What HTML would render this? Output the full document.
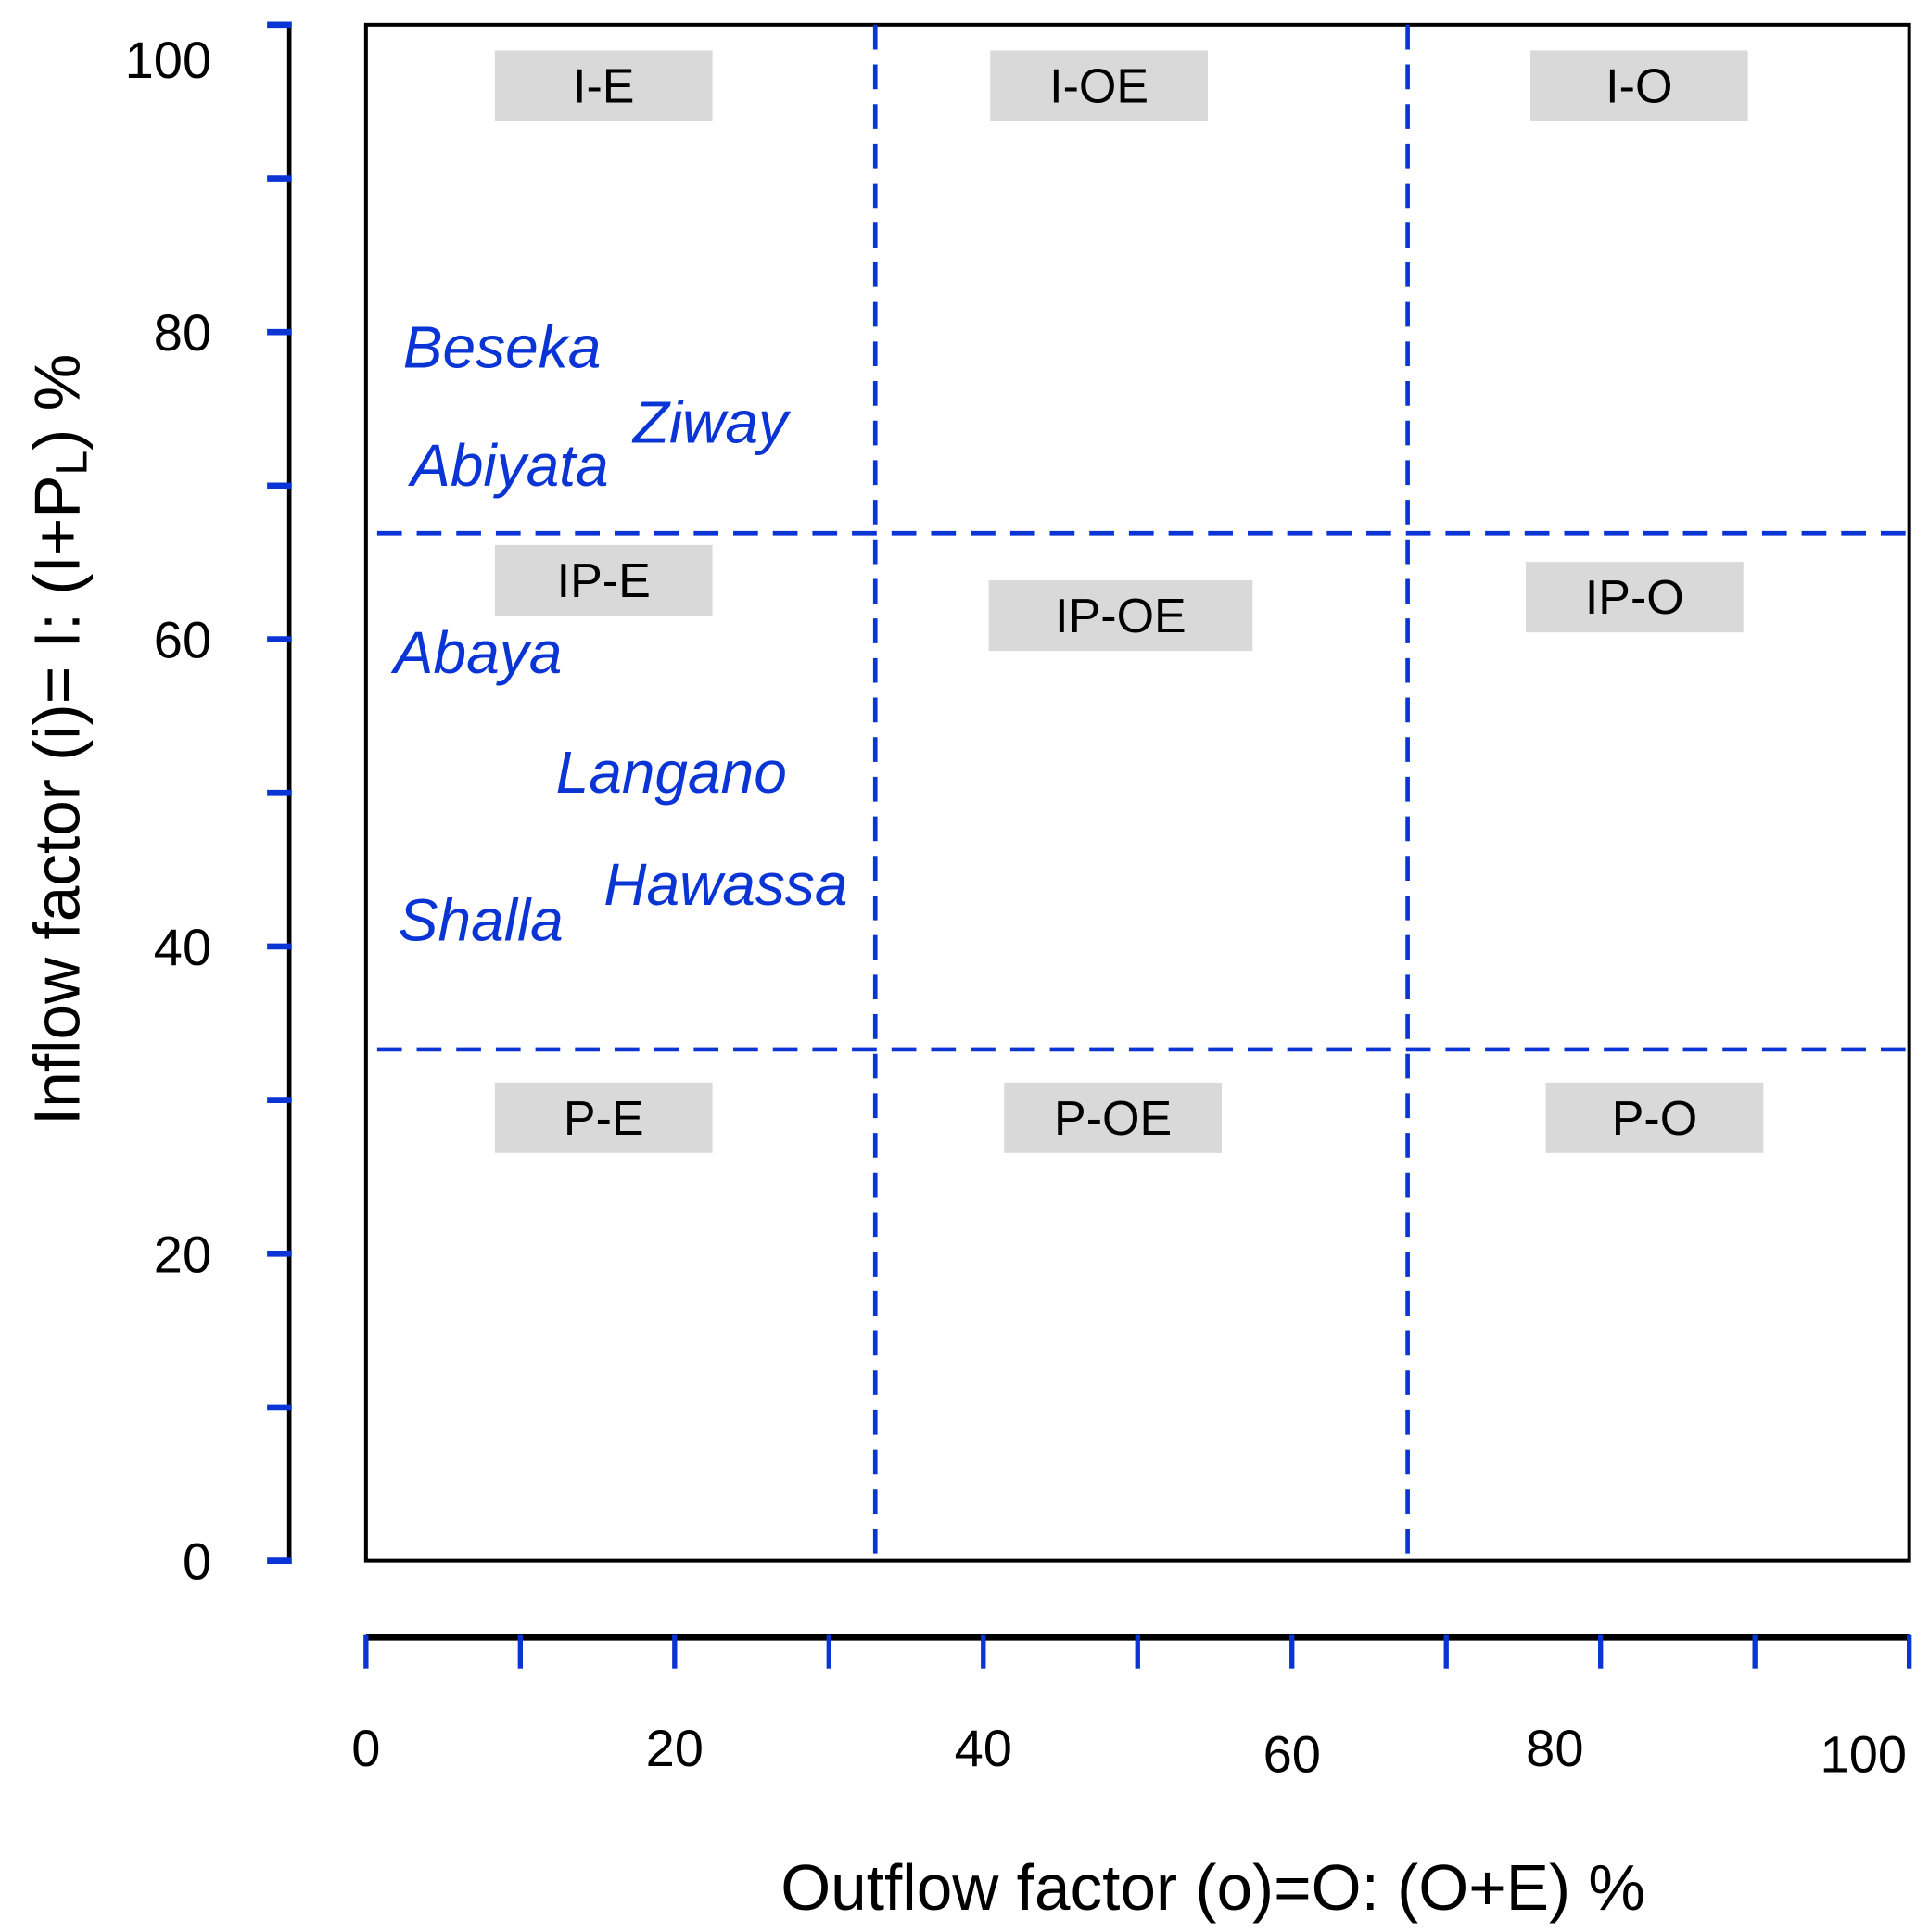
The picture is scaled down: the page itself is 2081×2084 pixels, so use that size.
<!DOCTYPE html>
<html><head><meta charset="utf-8"><style>
html,body{margin:0;padding:0;background:#fff;}
svg{display:block;}
text{font-family:"Liberation Sans",Arial,sans-serif;}
</style></head><body>
<svg id="chart" width="2081" height="2084" viewBox="0 0 1560 1562" xmlns="http://www.w3.org/2000/svg">
<rect x="0" y="0" width="1560" height="1562" fill="#fff"/>
<g id="layer"></g>
</svg>
<script>
// data
const xTicks = [0,10,20,30,40,50,60,70,80,90,100];
const xTickLabels = ["0","20","40","60","80","100"];
const xTickLabelValues = [0,20,40,60,80,100];
const yTicks = [0,10,20,30,40,50,60,70,80,90,100];
const yTickLabels = ["0","20","40","60","80","100"];
const yTickLabelValues = [0,20,40,60,80,100];
const dividersX = [33, 67.5];
const dividersY = [33.3, 66.9];
const zoneNames = ["I-E","I-OE","I-O","IP-E","IP-OE","IP-O","P-E","P-OE","P-O"];
const zoneX = [15.4, 47.5, 82.5, 15.4, 48.9, 82.2, 15.4, 48.4, 83.5];
const zoneY = [96.0, 96.0, 96.0, 63.8, 61.5, 62.7, 28.8, 28.8, 28.8];
const zoneW = [14.1, 14.1, 14.1, 14.1, 17.1, 14.1, 14.1, 14.1, 14.1];
const lakeNames = ["Beseka","Ziway","Abiyata","Abaya","Langano","Hawassa","Shalla"];
const lakeX = [2.4, 17.3, 2.9, 1.8, 12.3, 15.4, 2.1];
const lakeY = [77.7, 72.8, 70.0, 57.8, 50.0, 42.7, 40.4];

const NS="http://www.w3.org/2000/svg";
const L=296,R=1544,T=20,B=1262;
const sx=v=>L+(R-L)*v/100;
const sy=v=>B-(B-T)*v/100;
const g=document.getElementById('layer');
function mk(tag,attrs,txt){const e=document.createElementNS(NS,tag);for(const k in attrs)e.setAttribute(k,attrs[k]);if(txt!==undefined)e.textContent=txt;g.appendChild(e);return e;}
const BLUE="#0a34d4";

// plot frame
let e=mk('rect',{x:L,y:T,width:R-L,height:B-T,fill:'none',stroke:'#000','stroke-width':3});



// zone boxes
zoneNames.forEach((n,i)=>{
  const x0=sx(zoneX[i]-zoneW[i]/2), w=sx(zoneW[i])-L, yc=sy(zoneY[i]);
  let r=mk('rect',{x:x0,y:yc-29,width:w,height:57,fill:'#d9d9d9'});
  
  
  let t=mk('text',{x:sx(zoneX[i]),y:yc+13,'font-size':39,'text-anchor':'middle',fill:'#000'},n);
  
  
});

// dividers
dividersX.forEach((v,i)=>{
  let l=mk('line',{x1:sx(v),x2:sx(v),y1:T,y2:B,stroke:BLUE,'stroke-width':3.5,'stroke-dasharray':'20 12'});
  
  
});
dividersY.forEach((v,i)=>{
  let l=mk('line',{x1:L+9,x2:R,y1:sy(v),y2:sy(v),stroke:BLUE,'stroke-width':3.5,'stroke-dasharray':'20 12'});
  
  
});

// lake labels
lakeNames.forEach((n,i)=>{
  let t=mk('text',{x:sx(lakeX[i]),y:sy(lakeY[i]),'font-size':48,'font-style':'italic',fill:BLUE},n);
  
  
});

// y axis
e=mk('line',{x1:234,x2:234,y1:T,y2:B,stroke:'#000','stroke-width':3.5});


yTicks.forEach(v=>{
  let l=mk('line',{x1:216,x2:236,y1:sy(v),y2:sy(v),stroke:BLUE,'stroke-width':5});
  
  
});
yTickLabels.forEach((s,i)=>{
  const v=yTickLabelValues[i];
  const yy=sy(v)+15+(v===100?28:0);
  let t=mk('text',{x:171,y:yy,'font-size':42,'text-anchor':'end',fill:'#000'},s);
  
  
});

// x axis
e=mk('line',{x1:L,x2:R,y1:1324,y2:1324,stroke:'#000','stroke-width':5});


xTicks.forEach(v=>{
  let l=mk('line',{x1:sx(v),x2:sx(v),y1:1322,y2:1349,stroke:BLUE,'stroke-width':4});
  
  
});
xTickLabels.forEach((s,i)=>{
  const v=xTickLabelValues[i];
  const yy=(v===60||v===100)?1433:1428;
  const nudge=v===80?-37:(v===100?-37:0);
  let t=mk('text',{x:sx(v)+nudge,y:yy,'font-size':42,'text-anchor':'middle',fill:'#000'},s);
  
  
});

// titles
e=mk('text',{x:981,y:1544,'font-size':52,'text-anchor':'middle',fill:'#000'},'Outflow factor (o)=O: (O+E) %');


e=mk('text',{x:0,y:0,'font-size':52,'text-anchor':'middle',fill:'#000',transform:'translate(64,598) rotate(-90)'});


e.innerHTML='Inflow factor (i)= I: (I+P<tspan font-size="36" dy="6">L</tspan><tspan dy="-6">) %</tspan>';
</script>
</body></html>
